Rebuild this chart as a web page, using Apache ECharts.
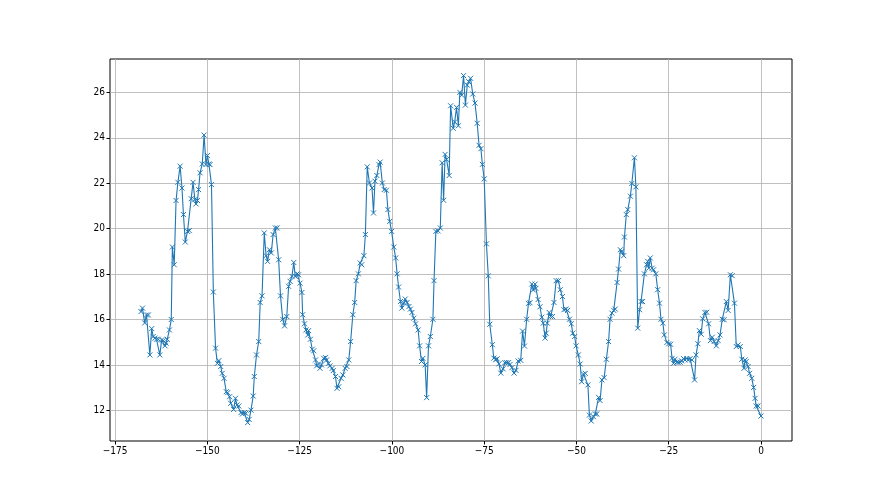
<!DOCTYPE html>
<html>
<head>
<meta charset="utf-8">
<script src="https://cdn.jsdelivr.net/npm/echarts@6/dist/echarts.min.js"></script>
<style>
html,body{margin:0;padding:0;background:#fff;}
#chart{width:880px;height:495px;}
</style>
</head>
<body>
<div id="chart"></div>
<script>
const xs = [
-168.0,-167.6,-167.0,-166.5,-166.0,-165.6,-165.1,-164.7,-164.2,-163.8,-163.3,-162.9,-162.4,-162.0,-161.5,-161.2,-160.9,-160.3,-159.8,-159.5,-159.0,-158.5,-158.0,-157.4,-156.9,-156.5,-156.0,-155.4,-154.9,-154.4,-153.9,-153.4,-153.1,-152.7,-152.4,-152.0,-151.4,-150.9,-150.4,-150.0,-149.6,-149.3,-148.9,-148.4,-147.8,-147.3,-146.9,-146.4,-146.0,-145.5,-144.9,-144.5,-144.0,-143.7,-142.9,-142.4,-142.0,-141.5,
-140.9,-140.5,-140.0,-139.6,-139.1,-138.7,-138.2,-137.6,-137.3,-136.7,-136.1,-135.7,-135.2,-134.6,-134.1,-133.7,-133.2,-132.7,-132.2,-131.6,-131.1,-130.7,-130.2,-129.6,-129.1,-128.5,-128.0,-127.6,-127.1,-126.6,-126.2,-125.7,-125.3,-124.9,-124.4,-124.2,-123.7,-123.3,-122.8,-122.6,-122.1,-121.6,-121.2,-120.7,-120.4,-119.9,-119.5,-119.1,-118.5,-118.0,-117.7,-117.2,-116.8,-116.2,-115.9,-115.3,-114.9,-114.4,
-113.8,-113.3,-112.7,-112.2,-111.7,-111.2,-110.6,-110.1,-109.7,-109.1,-108.6,-108.2,-107.6,-107.2,-106.7,-106.1,-105.4,-105.0,-104.6,-104.1,-103.5,-103.2,-102.6,-102.1,-101.5,-101.1,-100.6,-100.1,-99.5,-99.0,-98.6,-98.2,-97.7,-97.3,-96.8,-96.4,-95.9,-95.4,-95.0,-94.6,-94.1,-93.6,-92.9,-92.5,-92.0,-91.6,-91.0,-90.6,-90.1,-89.6,-88.9,-88.6,
-88.1,-87.5,-86.9,-86.4,-86.0,-85.6,-85.2,-84.5,-84.1,-83.4,-83.0,-82.5,-82.0,-81.6,-81.1,-80.6,-80.1,-79.6,-79.2,-78.7,-78.1,-77.5,-76.9,-76.4,-75.9,-75.5,-75.0,-74.4,-73.9,-73.5,-72.8,-72.4,-71.9,-71.5,-71.0,-70.5,-69.9,-69.4,-68.9,-68.4,-68.0,-67.5,-66.9,-66.4,-65.8,-65.1,-64.6,-64.1,-63.5,-63.0,-62.6,-62.1,-61.7,-61.2,-61.0,-60.4,-59.9,
-59.4,-59.0,-58.5,-58.2,-57.9,-57.4,-57.0,-56.5,-56.1,-55.5,-54.9,-54.4,-53.8,-53.4,-52.8,-52.4,-51.9,-51.4,-51.0,-50.5,-50.1,-49.5,-49.0,-48.6,-48.1,-47.6,-46.9,-46.5,-46.0,-45.4,-44.9,-44.5,-44.0,-43.6,-43.1,-42.5,-41.9,-41.3,-40.9,-40.4,-39.9,-39.5,-39.0,-38.6,-38.1,-37.7,-37.2,-37.0,-36.5,-36.1,-35.4,-35.0,-34.3,-33.9,-33.4,-32.9,
-32.5,-32.1,-31.6,-31.0,-30.7,-30.4,-30.0,-29.5,-29.1,-28.5,-28.0,-27.5,-27.1,-26.6,-26.2,-25.5,-25.0,-24.5,-24.1,-23.7,-23.3,-22.8,-22.4,-21.9,-21.5,-21.0,-20.6,-20.1,-19.7,-19.2,-18.7,-18.0,-17.6,-17.1,-16.7,-16.2,-15.8,-15.2,-14.7,-14.2,-13.7,-13.2,-12.7,-12.1,-11.6,-11.1,-10.5,-10.0,-9.4,-8.9,-8.3,-7.8,-7.2,-6.7,-6.2,-5.6,-5.2,-4.6,-4.3,-4.0,-3.5,-3.1,-2.5,-2.0,-1.6,-1.3,-0.8,0.0
];
const ys = [
16.35,16.5,15.85,16.2,16.2,14.44,15.6,15.25,15.18,15.13,15.13,14.44,15.1,15.07,14.84,14.96,15.13,15.54,16.0,19.19,18.41,21.24,22.04,22.75,21.79,20.62,19.41,19.88,19.91,21.32,22.04,21.28,21.09,21.24,21.72,22.46,22.85,24.12,22.82,23.22,22.85,22.82,21.94,17.21,14.74,14.07,14.19,13.93,13.63,13.41,12.82,12.78,12.6,12.31,12.04,12.53,12.24,12.19,
11.9,11.84,11.9,11.87,11.46,11.6,12.01,12.63,13.49,14.44,15.03,16.75,17.04,19.81,18.81,18.56,19.07,18.93,19.74,20.03,20.03,18.63,17.04,16.01,15.72,16.13,17.46,17.68,17.9,18.51,17.9,18.01,17.97,17.6,17.19,16.21,15.81,15.54,15.32,15.51,15.13,14.69,14.62,14.22,13.96,14.04,13.85,14.0,14.29,14.32,14.22,14.07,13.96,13.85,13.75,13.49,12.97,13.04,
13.41,13.56,13.85,13.93,14.22,15.03,16.21,16.75,17.71,18.01,18.49,18.41,18.81,19.74,22.72,22.01,21.79,20.69,22.09,22.34,22.82,22.93,22.01,21.72,21.69,20.84,20.32,19.88,19.19,18.71,18.01,17.43,16.79,16.5,16.72,16.9,16.75,16.57,16.46,16.31,16.06,15.81,15.54,14.84,14.15,14.29,14.0,12.56,14.84,15.25,16.01,17.71,
19.88,19.9,20.03,22.9,21.25,23.27,23.05,22.34,25.41,24.42,24.7,25.34,24.53,26.0,25.88,26.74,25.44,26.32,26.47,26.62,25.93,25.53,24.64,23.67,23.52,22.83,22.19,19.33,17.92,15.79,14.89,14.3,14.23,14.27,14.05,13.64,13.83,14.1,14.1,14.1,14.02,13.88,13.64,13.76,14.17,14.2,15.49,14.83,16.01,16.71,16.74,17.56,17.3,17.56,17.37,16.88,16.56,
16.1,15.84,15.18,15.4,15.84,16.31,16.13,16.13,16.75,17.71,17.71,17.31,17.01,16.43,16.46,16.4,16.01,15.81,15.4,15.25,14.84,14.44,14.04,13.26,13.6,13.63,13.12,11.79,11.53,11.72,11.84,11.84,12.57,12.43,13.34,13.44,14.25,15.03,16.01,16.28,16.4,16.46,17.63,18.22,19.07,19.0,18.81,19.63,20.62,20.84,21.43,21.99,23.12,21.84,15.62,16.43,
16.79,16.79,18.01,18.41,18.56,18.26,18.71,18.26,18.19,18.01,17.31,16.72,16.01,15.84,15.32,14.99,14.93,14.91,14.29,14.07,14.25,14.12,14.12,14.12,14.18,14.28,14.22,14.28,14.22,14.28,14.22,13.34,14.44,14.93,15.51,15.35,16.03,16.31,16.32,15.81,15.07,15.22,15.03,14.84,15.07,15.32,16.01,15.99,16.79,16.4,17.97,17.93,16.72,14.81,14.88,14.81,14.25,13.85,14.22,14.15,13.93,13.63,13.41,13.01,12.53,12.19,12.19,11.75
];
const xTicks = [-175, -150, -125, -100, -75, -50, -25, 0];
const yTicks = [12, 14, 16, 18, 20, 22, 24, 26];

const data = xs.map((x, i) => [x, ys[i]]);
const fmt = v => String(v).replace('-', '\u2212');
const font = '"Liberation Sans Narrow", "DejaVu Sans Condensed", "DejaVu Sans", sans-serif';

const chart = echarts.init(document.getElementById('chart'), null, {renderer: 'canvas'});
chart.setOption({
  animation: false,
  backgroundColor: '#fff',
  grid: {left: 110, top: 59, width: 682, height: 382, show: true, borderColor: '#000', borderWidth: 1, backgroundColor: 'transparent'},
  xAxis: {
    type: 'value', min: -176.4, max: 8.4,
    axisLine: {show: false, onZero: false},
    axisTick: {show: true, customValues: xTicks, length: 3.5, lineStyle: {color: '#000', width: 1}},
    axisLabel: {customValues: xTicks, formatter: fmt, color: '#000', fontSize: 10, fontFamily: font, margin: 5},
    splitLine: {show: true, lineStyle: {color: '#b0b0b0', width: 0.8}}
  },
  yAxis: {
    type: 'value', min: 10.65, max: 27.47,
    axisLine: {show: false, onZero: false},
    axisTick: {show: true, customValues: yTicks, length: 3.5, lineStyle: {color: '#000', width: 1}},
    axisLabel: {customValues: yTicks, formatter: fmt, color: '#000', fontSize: 10, fontFamily: font, margin: 5},
    splitLine: {show: true, lineStyle: {color: '#b0b0b0', width: 0.8}}
  },
  series: [{
    type: 'line',
    data: data,
    symbol: 'path://M0,0L10,10M10,0L0,10',
    symbolSize: 5,
    showAllSymbol: true,
    itemStyle: {color: 'rgba(0,0,0,0)', borderColor: '#1f77b4', borderWidth: 1},
    lineStyle: {color: '#1f77b4', width: 1.1},
    emphasis: {disabled: true}
  }]
});
</script>
</body>
</html>
